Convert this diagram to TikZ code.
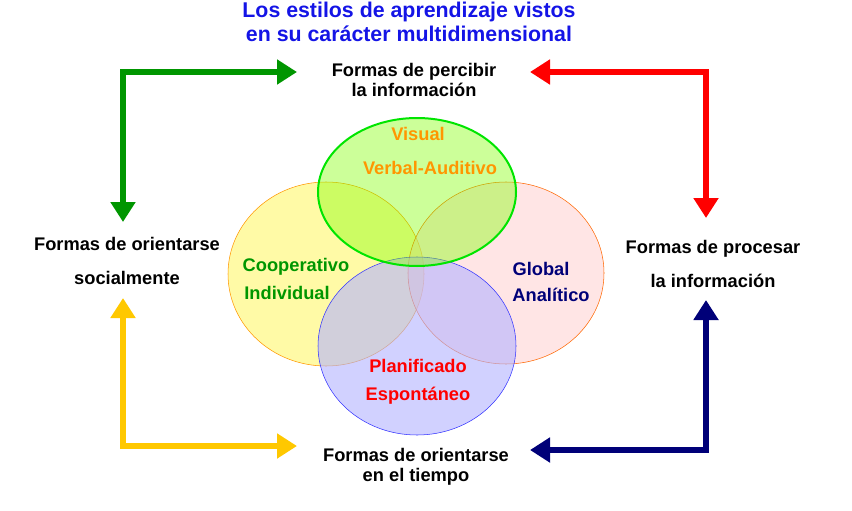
\documentclass[tikz,border=0pt]{standalone}
\usepackage{fontspec}
\setmainfont{Liberation Sans}
\usetikzlibrary{arrows.meta}
\definecolor{ttlblue}{RGB}{20,20,230}
\definecolor{grn}{RGB}{0,150,0}
\definecolor{nvy}{RGB}{0,0,120}
\definecolor{orng}{RGB}{255,150,0}
\definecolor{ylw}{RGB}{255,200,0}
\tikzset{
  lbl/.style={font=\bfseries\fontsize{13.7}{15}\selectfont, align=center, inner sep=0.75pt},
  bigarrow/.style={line width=4.5pt, -{Triangle[length=15pt,width=18pt]}},
}
\begin{document}
\begin{tikzpicture}[x=0.75pt,y=0.75pt,yscale=-1,xscale=1]
\useasboundingbox (0,0) rectangle (852,510);

%Ellipses
\draw [orng, fill=yellow!70, fill opacity=0.5] (326,274) ellipse [x radius=98, y radius=92];
\draw [orange!80!red, fill=pink!80, fill opacity=0.5] (506,273) ellipse [x radius=98, y radius=91];
\draw [blue!80, fill=blue!30, fill opacity=0.6] (417,346) ellipse [x radius=99, y radius=89];
\draw [green!90!black, line width=1.5pt, fill=green!50!yellow, fill opacity=0.4] (417,192) ellipse [x radius=99, y radius=74];

% Title
\node [lbl, text=ttlblue, font=\bfseries\fontsize{16}{18}\selectfont] (title) at (409,22) {Los estilos de aprendizaje vistos\\en su carácter multidimensional};

% Text Nodes
\node [lbl] (percibir) at (414,80) {Formas de percibir\\la información};
\node [lbl] (social) at (127,261) {Formas de orientarse\\[11pt]socialmente};
\node [lbl] (procesar) at (713,264) {Formas de procesar\\[11pt]la información};
\node [lbl] (tiempo) at (416,467) {Formas de orientarse\\en el tiempo};

\node [lbl, text=orng] (visual) at (418,134) {Visual};
\node [lbl, text=orng] (verbal) at (430,168) {Verbal-Auditivo};
\node [lbl, text=grn] (coop) at (296,267) {Cooperativo};
\node [lbl, text=grn] (indiv) at (287,293) {Individual};
\node [lbl, text=nvy] (global) at (541,269) {Global};
\node [lbl, text=nvy] (analitico) at (551,295) {Analítico};
\node [lbl, text=red] (planif) at (418,366) {Planificado};
\node [lbl, text=red] (espont) at (418,396) {Espontáneo};

% Corners
\coordinate (gc) at (123,72);
\coordinate (rc) at (706,72);
\coordinate (yc) at (123,446);
\coordinate (nc) at (706,450);

% Arrows
\draw [bigarrow, grn, {Triangle[length=15pt,width=18pt]}-{Triangle[length=15pt,width=18pt]}] (123,222) -- (gc) -- (297,72);
\draw [bigarrow, red, {Triangle[length=15pt,width=18pt]}-{Triangle[length=15pt,width=18pt]}] (530,72) -- (rc) -- (706,218);
\draw [bigarrow, ylw, {Triangle[length=15pt,width=18pt]}-{Triangle[length=15pt,width=18pt]}] (123,298) -- (yc) -- (297,446);
\draw [bigarrow, nvy, {Triangle[length=15pt,width=18pt]}-{Triangle[length=15pt,width=18pt]}] (706,300) -- (nc) -- (530,450);
\end{tikzpicture}
\end{document}
